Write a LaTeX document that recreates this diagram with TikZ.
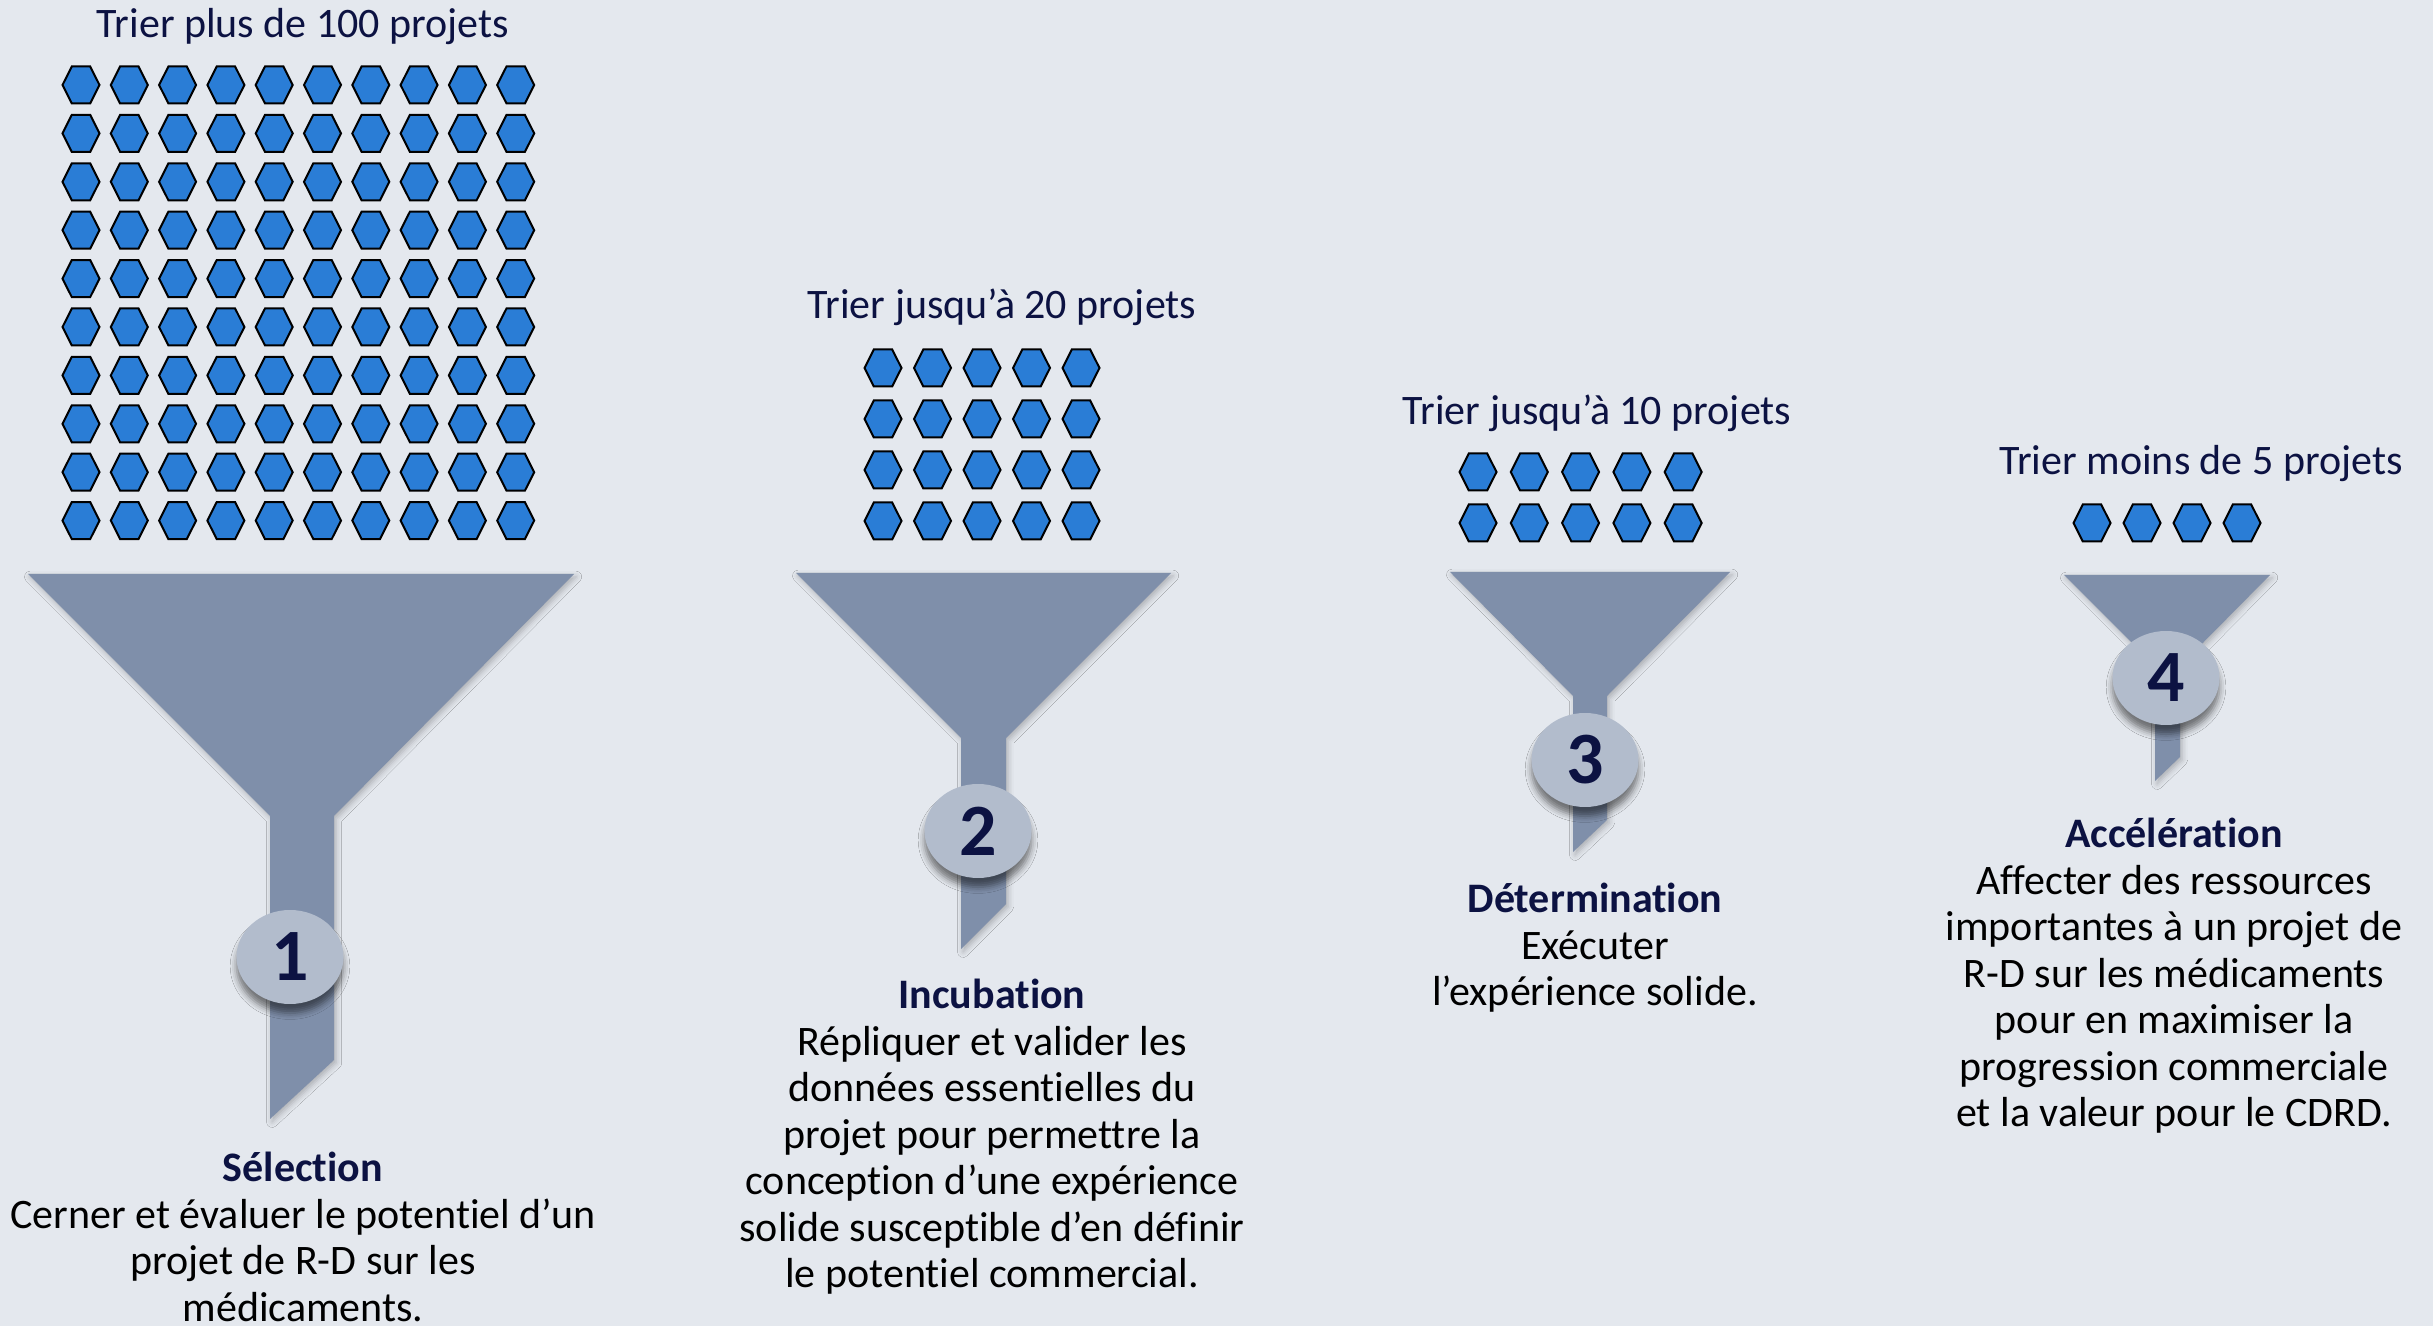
\documentclass[tikz,border=0pt]{standalone}
\usepackage{fontspec}
\setmainfont{Carlito}[Ligatures=NoCommon]
\usetikzlibrary{shapes.geometric,shadows.blur}

\definecolor{bg}{RGB}{228,232,238}
\definecolor{funnelcol}{RGB}{127,143,170}
\definecolor{badgecol}{RGB}{178,188,204}
\definecolor{hexfill}{RGB}{42,125,214}
\definecolor{navy}{RGB}{12,18,66}

\tikzset{
  funnelshape/.style={fill=funnelcol,
    blur shadow={shadow xshift=0.6pt, shadow yshift=-0.8pt, shadow blur radius=1.6pt, shadow opacity=25}},
  badge/.style={ellipse, fill=badgecol, minimum width=1.07cm, minimum height=0.94cm, inner sep=0pt,
    font=\fontsize{21}{21}\selectfont\bfseries, text=navy,
    blur shadow={shadow xshift=0pt, shadow yshift=-2.6pt, shadow blur radius=1.8pt, shadow opacity=50}},
  heading/.style={font=\fontsize{11.95}{13.2}\selectfont, text=navy, anchor=base, inner sep=0pt},
  desc/.style={font=\fontsize{11.95}{13.23}\selectfont, align=center, anchor=north, inner sep=0pt, text=black},
  hexa/.pic={\draw[fill=hexfill, draw=black, line width=0.57pt]
    (-0.185,0) -- (-0.092,0.185) -- (0.092,0.185) -- (0.185,0) -- (0.092,-0.185) -- (-0.092,-0.185) -- cycle;}
}
\newcommand{\stagehead}[1]{\rule{0pt}{0.38cm}{\bfseries\color{navy}#1}}

\begin{document}
\begin{tikzpicture}
\useasboundingbox (0,0) rectangle (24.33,-13.26);
\fill[bg] (0,0) rectangle (24.33,-13.26);

% project counts above each funnel
\node[heading] (t1) at (3.03,-0.38) {Trier plus de 100 projets};
\node[heading] (t2) at (10.02,-3.19) {Trier jusqu’à 20 projets};
\node[heading] (t3) at (15.97,-4.25) {Trier jusqu’à 10 projets};
\node[heading] (t4) at (22.01,-4.75) {Trier moins de 5 projets};

% project hexagons
\foreach \i in {0,...,9}
  \foreach \j in {0,...,9}
    \pic at ({0.81+0.483*\i},{-0.85-0.484*\j}) {hexa};
\foreach \i in {0,...,4}
  \foreach \j in {0,...,3}
    \pic at ({8.83+0.495*\i},{-3.68-0.51*\j}) {hexa};
\foreach \i in {0,...,4}
  \foreach \j in {0,...,1}
    \pic at ({14.78+0.513*\i},{-4.72-0.51*\j}) {hexa};
\foreach \i in {0,...,3}
  \pic at ({20.92+0.50*\i},-5.23) {hexa};

% funnels
\fill[funnelshape] (0.28,-5.74) -- (5.74,-5.74) -- (3.34,-8.16) -- (3.34,-10.60)
  -- (2.70,-11.19) -- (2.70,-8.16) -- cycle;
\fill[funnelshape] (7.96,-5.73) -- (11.71,-5.73) -- (10.06,-7.38) -- (10.06,-9.04)
  -- (9.61,-9.49) -- (9.61,-7.38) -- cycle;
\fill[funnelshape] (14.50,-5.72) -- (17.30,-5.72) -- (16.07,-6.96) -- (16.07,-8.20)
  -- (15.73,-8.52) -- (15.73,-6.96) -- cycle;
\fill[funnelshape] (20.64,-5.75) -- (22.70,-5.75) -- (21.80,-6.66) -- (21.80,-7.57)
  -- (21.55,-7.81) -- (21.55,-6.66) -- cycle;

% stage numbers
\node[badge] (n1) at (2.90,-9.57) {1};
\node[badge] (n2) at (9.78,-8.31) {2};
\node[badge] (n3) at (15.85,-7.60) {3};
\node[badge] (n4) at (21.66,-6.78) {4};

% stage descriptions
\node[desc] (b1) at (3.03,-11.43) {\stagehead{Sélection}\\
  Cerner et évaluer le potentiel d’un\\ projet de R-D sur les\\ médicaments.};
\node[desc] (b2) at (9.92,-9.70) {\stagehead{Incubation}\\
  Répliquer et valider les\\ données essentielles du\\ projet pour permettre la\\
  conception d’une expérience\\ solide susceptible d’en définir\\ le potentiel commercial.};
\node[desc] (b3) at (15.95,-8.74) {\stagehead{Détermination}\\
  Exécuter\\ l’expérience solide.};
\node[desc] (b4) at (21.74,-8.09) {\stagehead{Accélération}\\
  Affecter des ressources\\ importantes à un projet de\\ R-D sur les médicaments\\
  pour en maximiser la\\ progression commerciale\\ et la valeur pour le CDRD.};
\end{tikzpicture}
\end{document}
